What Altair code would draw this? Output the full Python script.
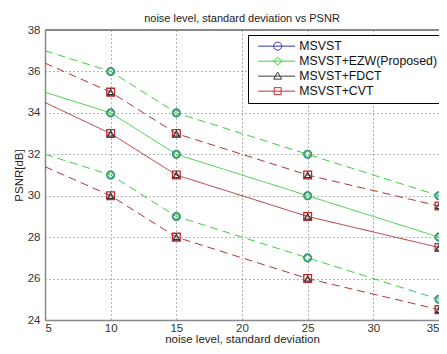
import altair as alt
import pandas as pd

# ---- data ----
x_vals = [5, 10, 15, 25, 35]
green_upper = [37.0, 36.0, 34.0, 32.0, 30.0]
green_mid = [35.0, 34.0, 32.0, 30.0, 28.0]
green_low = [32.0, 31.0, 29.0, 27.0, 25.0]
red_upper = [36.4, 35.0, 33.0, 31.0, 29.5]
red_mid = [34.5, 33.0, 31.0, 29.0, 27.5]
red_low = [31.4, 30.0, 28.0, 26.0, 24.5]
marker_x = [10, 15, 25, 35]

series_names = ["MSVST", "\u00a0MSVST+EZW(Proposed)", "MSVST+FDCT", "MSVST+CVT"]
series_colors = ["#3535b5", "#3ccf3c", "#3a3a3a", "#c03030"]

curves = [
    ("gu", "green", "dashed", green_upper),
    ("gm", "green", "solid", green_mid),
    ("gl", "green", "dashed", green_low),
    ("ru", "red", "dashed", red_upper),
    ("rm", "red", "solid", red_mid),
    ("rl", "red", "dashed", red_low),
]

line_rows = []
marker_rows = []
for name, fam, style, ys in curves:
    for x, y in zip(x_vals, ys):
        line_rows.append({"x": x, "y": y, "curve": name, "family": fam, "style": style})
        if x in marker_x:
            if fam == "green":
                marker_rows.append({"x": x, "y": y, "series": series_names[0]})
                marker_rows.append({"x": x, "y": y, "series": series_names[1]})
            else:
                marker_rows.append({"x": x, "y": y, "series": series_names[2]})
                marker_rows.append({"x": x, "y": y, "series": series_names[3]})
lines_df = pd.DataFrame(line_rows)
markers_df = pd.DataFrame(marker_rows)

FONT = "Liberation Sans"
W, H = 394, 290

xenc = alt.X("x:Q", scale=alt.Scale(domain=[5, 35], nice=False, zero=False),
             axis=alt.Axis(values=[5, 10, 15, 20, 25, 30, 35], title="noise level, standard deviation",
                           labelPadding=2, titlePadding=0))
yenc = alt.Y("y:Q", scale=alt.Scale(domain=[24, 38], nice=False, zero=False),
             axis=alt.Axis(values=[24, 26, 28, 30, 32, 34, 36, 38], title="PSNR[dB]",
                           labelPadding=5, titlePadding=3))

lines = alt.Chart(lines_df).mark_line(strokeWidth=1).encode(
    x=xenc, y=yenc,
    color=alt.Color("family:N", scale=alt.Scale(domain=["green", "red"], range=["#3ccf3c", "#b03535"]), legend=None),
    strokeDash=alt.StrokeDash("style:N", scale=alt.Scale(domain=["solid", "dashed"], range=[[1, 0], [8, 5]]), legend=None),
    detail="curve:N",
)

marker_style = [
    (series_names[0], "circle", "#2a7a8a"),
    (series_names[1], "diamond", "#36b060"),
    (series_names[3], "square", "#c02828"),
    (series_names[2], "triangle-up", "#333333"),
]
marker_layers = []
for nm, shp, col in marker_style:
    marker_layers.append(
        alt.Chart(markers_df).transform_filter(alt.datum.series == nm).mark_point(
            shape=shp, size=60 if shp != "triangle-up" else 36, filled=False, color=col, strokeWidth=1.3, opacity=1
        ).encode(x=xenc, y=yenc)
    )

legend_paths = [
    "M-0.2,0H7.2M2.9,0A0.8,0.8 0 1,1 4.5,0A0.8,0.8 0 1,1 2.9,0Z",
    "M-0.2,0H7.2M3.7,-0.8L4.5,0L3.7,0.8L2.9,0Z",
    "M-0.2,0H7.2M3.7,-0.8L4.5,0.6L2.9,0.6Z",
    "M-0.2,0H7.2M3.0,-0.7H4.4V0.7H3.0Z",
]
leg = dict(title=None, orient="none", legendX=203, legendY=5, symbolSize=100, labelOffset=34,
           rowPadding=2, padding=5, strokeColor="black", fillColor="white", cornerRadius=0,
           labelFontSize=12.3, labelFont=FONT, labelColor="#111", symbolStrokeWidth=1,
           symbolFillColor="transparent", symbolOpacity=1, labelLimit=300)
legend_layer = alt.Chart(markers_df).transform_filter("false").mark_point(filled=False).encode(
    x=xenc, y=yenc,
    stroke=alt.Stroke("series:N", scale=alt.Scale(domain=series_names, range=series_colors), legend=alt.Legend(**leg)),
    shape=alt.Shape("series:N", scale=alt.Scale(domain=series_names, range=legend_paths), legend=alt.Legend(**leg)),
)

top_frame = alt.Chart(lines_df).mark_rule(color="#888888", strokeWidth=1.5).encode(
    x=alt.value(0), x2=alt.value(W), y=alt.value(0)
)

chart = alt.layer(lines, *marker_layers, top_frame, legend_layer).properties(
    width=W, height=H,
    background="white",
    title=alt.TitleParams("noise level, standard deviation vs PSNR", fontSize=11, font=FONT,
                          fontWeight="normal", color="#222", offset=0),
    autosize=alt.AutoSizeParams(type="none"),
    padding={"left": 37, "top": 22, "right": 0, "bottom": 26},
).configure_view(stroke=None).configure_axis(
    domain=True, domainColor="#888888", domainWidth=1.5, ticks=False, grid=True,
    gridColor="#444", gridDash=[1, 3], gridOpacity=0.8,
    labelFont=FONT, labelFontSize=11.5, labelColor="#333", titleFont=FONT, titleFontSize=11.5,
    titleFontWeight="normal", titleColor="#222",
)

chart.save("out.html", embed_options={"renderer": "svg", "actions": False})
